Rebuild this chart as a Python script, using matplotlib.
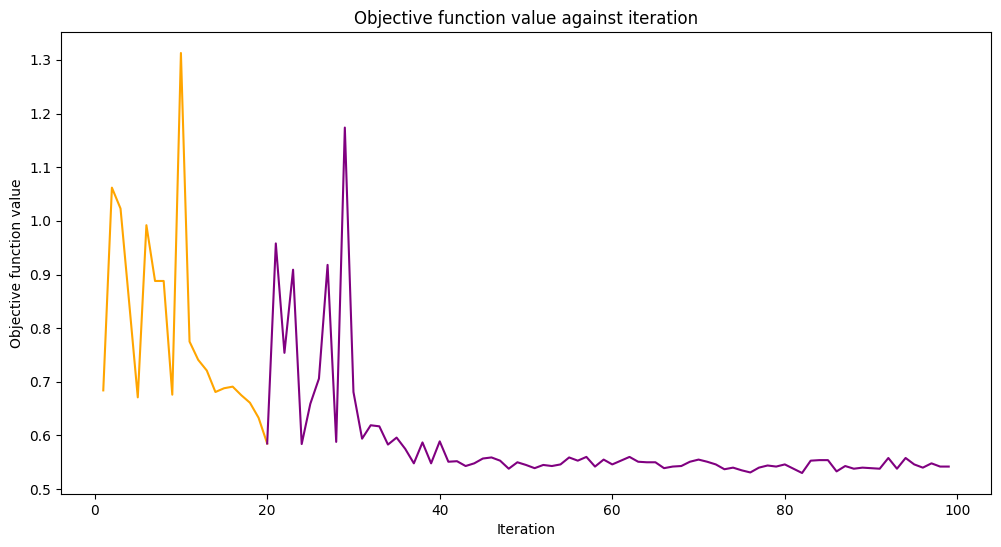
import matplotlib
matplotlib.use("Agg")
import matplotlib.pyplot as plt

orange_iter = list(range(1, 21))
orange_vals = [0.684, 1.062, 1.023, 0.848, 0.671, 0.992, 0.888, 0.888, 0.676, 1.313,
               0.775, 0.741, 0.721, 0.681, 0.688, 0.691, 0.675, 0.661, 0.633, 0.585]

purple_iter = list(range(20, 100))
purple_vals = [0.585, 0.958, 0.754, 0.909, 0.584, 0.659, 0.706, 0.918, 0.588, 1.174,
               0.681, 0.594, 0.619, 0.617, 0.583, 0.596, 0.575, 0.548, 0.587, 0.548,
               0.589, 0.551, 0.552, 0.543, 0.548, 0.557, 0.559, 0.553, 0.538, 0.550,
               0.545, 0.539, 0.545, 0.543, 0.546, 0.559, 0.553, 0.560, 0.542, 0.555,
               0.546, 0.553, 0.560, 0.551, 0.550, 0.550, 0.539, 0.542, 0.543, 0.551,
               0.555, 0.551, 0.546, 0.537, 0.540, 0.535, 0.531, 0.540, 0.544, 0.542,
               0.546, 0.538, 0.530, 0.553, 0.554, 0.554, 0.533, 0.543, 0.538, 0.540,
               0.539, 0.538, 0.558, 0.538, 0.558, 0.546, 0.540, 0.548, 0.542, 0.542]

W, H = 1001, 547
fig = plt.figure(figsize=(W / 100, H / 100), dpi=100)
ax = fig.add_axes([61 / W, 53 / H, 930 / W, 462 / H])
ax.plot(orange_iter, orange_vals, color="orange")
ax.plot(purple_iter, purple_vals, color="purple")
ax.set_title("Objective function value against iteration")
ax.set_xlabel("Iteration")
ax.set_ylabel("Objective function value")
fig.savefig("out.png", dpi=100)
